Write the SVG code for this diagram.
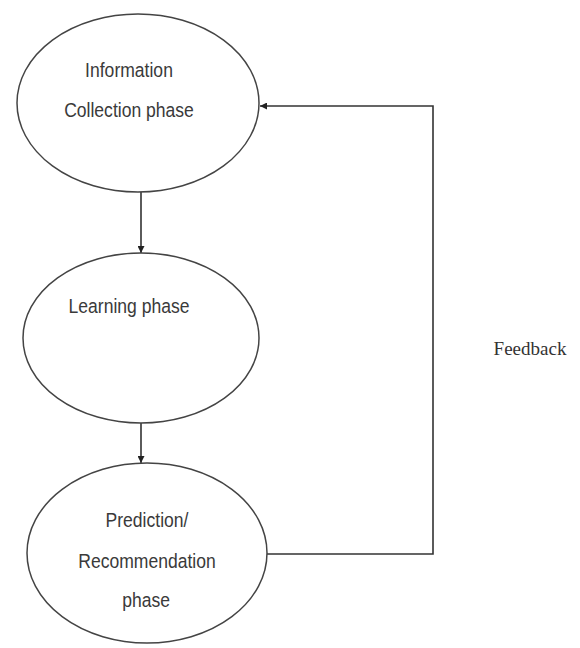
<svg xmlns="http://www.w3.org/2000/svg" width="580" height="648" viewBox="0 0 580 648">
<defs>
<style>
.node{fill:#fff;stroke:#444;stroke-width:1.5}
.lbl{font-family:"Liberation Sans","Noto Sans",sans-serif;font-size:19.5px;fill:#3a3a3a;text-anchor:middle}
.fb{font-family:"Liberation Serif",serif;font-size:19px;fill:#333;text-anchor:middle}
.edge{fill:none;stroke:#333;stroke-width:1.6}
</style>
<marker id="ah" viewBox="0 0 10 10" refX="10" refY="5" markerWidth="7" markerHeight="7" markerUnits="userSpaceOnUse" orient="auto">
<path d="M0,0 L10,5 L0,10 z" fill="#222"/>
</marker>
</defs>
<rect width="580" height="648" fill="#fff"/>
<g id="connectors">
<line class="edge" x1="141" y1="192" x2="141" y2="253" marker-end="url(#ah)"/>
<line class="edge" x1="141" y1="422" x2="141" y2="463" marker-end="url(#ah)"/>
<polyline class="edge" points="266,554 433,554 433,106 260,106" marker-end="url(#ah)"/>
<text class="fb" x="530" y="355">Feedback</text>
</g>
<g id="info">
<ellipse class="node" cx="138" cy="103" rx="121" ry="89"/>
<g transform="translate(129,0) scale(0.9,1)">
<text class="lbl" x="0" y="77">Information</text>
<text class="lbl" x="0" y="117">Collection phase</text>
</g>
</g>
<g id="learning">
<ellipse class="node" cx="141" cy="338" rx="118" ry="85"/>
<g transform="translate(129,0) scale(0.9,1)">
<text class="lbl" x="0" y="313">Learning phase</text>
</g>
</g>
<g id="prediction">
<ellipse class="node" cx="147" cy="553" rx="120" ry="90"/>
<g transform="translate(147,0) scale(0.9,1)">
<text class="lbl" x="0" y="527">Prediction/</text>
<text class="lbl" x="0" y="568">Recommendation</text>
<text class="lbl" x="-1" y="607">phase</text>
</g>
</g>
</svg>
